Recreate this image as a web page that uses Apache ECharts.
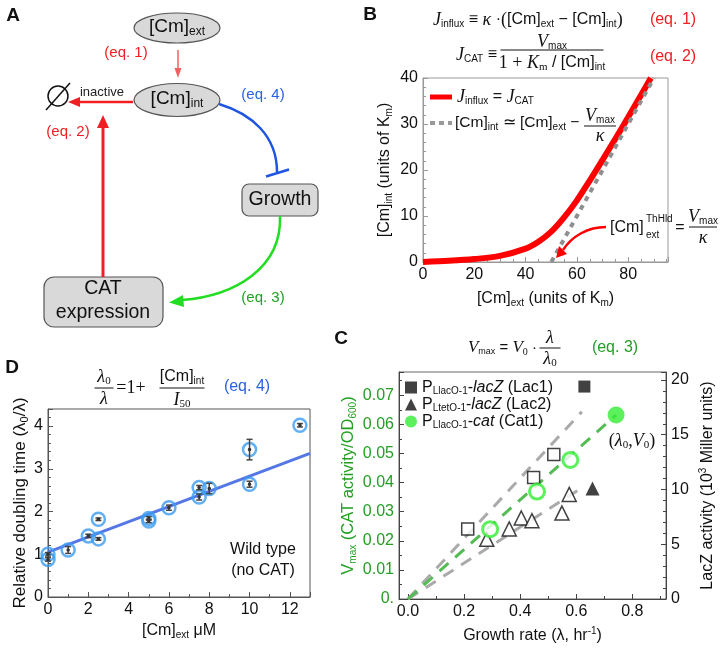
<!DOCTYPE html>
<html><head><meta charset="utf-8">
<script src="https://cdn.jsdelivr.net/npm/echarts@6/dist/echarts.min.js"></script>
<style>html,body{margin:0;padding:0;background:#fff}#c{width:724px;height:651px}</style>
</head><body><div id="c"></div>
<script>
// ---------- Panel B data ----------
const bRedX = [0, 10, 20, 30, 40, 45, 50, 55, 60, 65, 70, 75, 80, 85, 88.8];
const bRedY = [0, 0.25, 0.64, 1.34, 2.9, 4.4, 6.6, 9.7, 13.4, 17.7, 22.2, 26.8, 31.5, 36.3, 40];
const bGrayX = [50, 90];
const bGrayY = [0, 40];
const bXTicks = [0, 20, 40, 60, 80];
const bYTicks = [0, 10, 20, 30, 40];
// ---------- Panel D data ----------
const dX = [0, 0, 1, 2, 2.5, 2.5, 5, 5, 6, 7.5, 7.5, 8, 10, 10, 12.5];
const dY = [1.0, 0.88, 1.10, 1.43, 1.82, 1.36, 1.84, 1.78, 2.09, 2.56, 2.34, 2.54, 3.45, 2.64, 4.02];
const dErr = [0.04, 0.04, 0.08, 0.04, 0.03, 0.03, 0.04, 0.04, 0.06, 0.05, 0.07, 0.12, 0.24, 0.07, 0.04];
const dFitX = [0, 13];
const dFitY = [1.05, 3.36];
const dXTicks = [0, 2, 4, 6, 8, 10, 12];
const dYTicks = [0, 1, 2, 3, 4];
// ---------- Panel C data ----------
const lac1OpenX = [0.213, 0.448, 0.52];
const lac1OpenY = [6.4, 11.1, 13.2];
const lac1FullX = [0.629];
const lac1FullY = [19.4];
const lac2OpenX = [0.281, 0.361, 0.404, 0.442, 0.549, 0.575];
const lac2OpenY = [5.45, 6.4, 7.4, 7.15, 7.85, 9.55];
const lac2FullX = [0.658];
const lac2FullY = [10.1];
const cat1OpenX = [0.293, 0.46, 0.579];
const cat1OpenY = [0.024, 0.0369, 0.0478];
const cat1FullX = [0.742];
const cat1FullY = [0.0632];
const fitLac1X = [0, 0.62], fitLac1Y = [0, 17.1];
const fitLac2X = [0, 0.61], fitLac2Y = [0, 10.0];
const fitCatX = [0, 0.742], fitCatY = [0, 0.0632];
const cXTicks = [0, 0.2, 0.4, 0.6, 0.8];
const cXMinor = [0.1, 0.3, 0.5, 0.7, 0.9];
const cLeftTicks = [0, 0.01, 0.02, 0.03, 0.04, 0.05, 0.06, 0.07];
const cRightTicks = [0, 5, 10, 15, 20];

const zip = (a, b) => a.map((v, i) => [v, b[i]]);

const F = "'Liberation Sans', Arial, Helvetica, sans-serif";
const FS = "'Liberation Serif', 'Times New Roman', serif";
const RED = '#ee2024', BLUE = '#2a62e0', GREEN = '#22a022';

function R(size, color) {
  color = color || '#111';
  const sub = Math.round(size * 0.62);
  return {
    n: {fontFamily: F, fontSize: size, color},
    i: {fontFamily: F, fontSize: size, color, fontStyle: 'italic'},
    m: {fontFamily: FS, fontSize: size + 2, color, fontStyle: 'italic'},
    r: {fontFamily: FS, fontSize: size + 2, color},
    s: {fontFamily: F, fontSize: sub, color, padding: [Math.round(size * 0.55), 0, 0, 0]},
    ms: {fontFamily: FS, fontSize: sub + 1, color, padding: [Math.round(size * 0.55), 0, 0, 0]},
    p: {fontFamily: F, fontSize: sub, color, padding: [0, 0, Math.round(size * 0.6), 0]}
  };
}
function T(x, y, text, size, color, align, bold) {
  return {
    type: 'text', x: x, y: y, z: 100,
    style: {text: text, fill: color || '#111', fontSize: size, fontFamily: F, fontWeight: bold ? 'bold' : 'normal',
      align: align || 'center', verticalAlign: 'middle', textAlign: align || 'center', textVerticalAlign: 'middle',
      rich: R(size, color)}
  };
}
function L(x1, y1, x2, y2, color, w, dash) {
  const s = {stroke: color, lineWidth: w || 1};
  if (dash) s.lineDash = dash;
  return {type: 'line', z: 100, shape: {x1, y1, x2, y2}, style: s};
}
function P(points, color) {
  return {type: 'polygon', z: 100, shape: {points}, style: {fill: color}};
}
function frac(cx, yN, yBar, yD, num, den, size, w, color) {
  return [T(cx, yN, num, size, color), T(cx, yD, den, size, color), L(cx - w / 2, yBar, cx + w / 2, yBar, color || '#111', 1)];
}

const G = [];
// ---------- Panel A ----------
G.push(T(13, 16, 'A', 19, '#111', 'center', true));
G.push({type: 'ellipse', z: 90, shape: {cx: 177, cy: 28, rx: 43, ry: 15}, style: {fill: '#d9d9d9', stroke: '#555', lineWidth: 1.2}});
G.push(T(177, 27, '{n|[Cm]}{s|ext}', 19));
G.push({type: 'ellipse', z: 90, shape: {cx: 177, cy: 100, rx: 43, ry: 16.5}, style: {fill: '#d9d9d9', stroke: '#555', lineWidth: 1.2}});
G.push(T(177, 99, '{n|[Cm]}{s|int}', 19));
G.push(L(178, 50, 178, 72, '#f06060', 1.5));
G.push(P([[178, 78], [174.5, 68], [181.5, 68]], '#f06060'));
G.push(T(126, 53, '(eq. 1)', 15, RED));
G.push({type: 'circle', z: 100, shape: {cx: 58, cy: 96, r: 10}, style: {fill: 'none', stroke: '#111', lineWidth: 1.5}});
G.push(L(46, 110, 70, 83, '#111', 1.5));
G.push(T(102, 92, 'inactive', 13, '#222'));
G.push(L(133, 102, 78, 102, RED, 2.5));
G.push(P([[68, 102], [80, 97], [80, 107]], RED));
G.push(T(68, 132, '(eq. 2)', 15, RED));
G.push(L(103, 277, 103, 125, RED, 3));
G.push(P([[103, 115], [97, 128], [109, 128]], RED));
G.push({type: 'bezierCurve', z: 100, shape: {x1: 219, y1: 104, cpx1: 252, cpy1: 114, cpx2: 277, cpy2: 136, x2: 277, y2: 172}, style: {fill: 'none', stroke: '#1f55e0', lineWidth: 2.5}});
G.push(L(266, 176.5, 289, 169.5, '#1f55e0', 2.5));
G.push(T(263, 95, '(eq. 4)', 15, BLUE));
G.push({type: 'rect', z: 90, shape: {x: 242, y: 184, width: 76, height: 32, r: 7}, style: {fill: '#d9d9d9', stroke: '#555', lineWidth: 1.2}});
G.push(T(280, 200, 'Growth', 19.5));
G.push({type: 'bezierCurve', z: 100, shape: {x1: 280, y1: 216, cpx1: 282, cpy1: 268, cpx2: 235, cpy2: 296, x2: 182, y2: 300}, style: {fill: 'none', stroke: '#22dd22', lineWidth: 2.5}});
G.push(P([[169, 302.5], [183, 295], [184, 307]], '#22dd22'));
G.push(T(263, 298, '(eq. 3)', 15, GREEN));
G.push({type: 'rect', z: 90, shape: {x: 44, y: 277, width: 119, height: 50, r: 10}, style: {fill: '#d9d9d9', stroke: '#555', lineWidth: 1.2}});
G.push(T(103, 289, 'CAT', 19.5));
G.push(T(103, 313, 'expression', 19.5));
// ---------- Panel B annotations ----------
G.push(T(370, 15, 'B', 19, '#111', 'center', true));
G.push(T(433, 20, '{m|J}{s|influx}{n| ≡ }{m|κ}{n| ·}{r|(}{n|[Cm]}{s|ext}{n| − [Cm]}{s|int}{r|)}', 16, '#111', 'left'));
G.push(T(673, 20, '(eq. 1)', 16, RED));
G.push(T(497, 55, '{m|J}{s|CAT}{n| ≡}', 16, '#111', 'right'));
G.push(...frac(552, 42, 50, 63, '{m|V}{s|max}', '{r|1 + }{m|K}{ms|m}{n| / [Cm]}{s|int}', 16, 103));
G.push(T(673, 57, '(eq. 2)', 16, RED));
G.push(L(430, 97, 452, 97, '#ff0000', 5));
G.push(T(457, 97, '{m|J}{s|influx}{n| = }{m|J}{s|CAT}', 16, '#111', 'left'));
G.push(L(430, 123, 452, 123, '#999', 4, [5, 4]));
G.push(T(455, 123, '{n|[Cm]}{s|int}{n| ≃ [Cm]}{s|ext}{n| −}', 15.5, '#111', 'left'));
G.push(...frac(600, 116, 126, 136, '{m|V}{s|max}', '{m|κ}', 16, 32));
G.push(T(610, 228, '[Cm]', 16, '#111', 'left'));
G.push(T(646, 219, 'ThHld', 10, '#111', 'left'));
G.push(T(646, 235, 'ext', 10, '#111', 'left'));
G.push(T(680, 228, '=', 16));
G.push(...frac(703, 217, 227, 238, '{m|V}{s|max}', '{m|κ}', 16, 28));
G.push({type: 'bezierCurve', z: 100, shape: {x1: 606, y1: 227, cpx1: 588, cpy1: 227, cpx2: 572, cpy2: 236, x2: 563, y2: 250}, style: {fill: 'none', stroke: '#ff0000', lineWidth: 2.5}});
G.push(P([[556, 258], [567, 254], [559, 246]], '#ff0000'));
// ---------- Panel D annotations ----------
G.push(T(12, 368, 'D', 19, '#111', 'center', true));
G.push(...frac(104, 377, 388, 399, '{m|λ}{ms|0}', '{m|λ}', 16, 19));
G.push(T(131, 388, '{r|=1+}', 16));
G.push(...frac(182, 377, 388, 400, '{n|[Cm]}{s|int}', '{m|I}{ms|50}', 16, 45));
G.push(T(247, 387, '(eq. 4)', 16, BLUE));
G.push(T(263, 550, 'Wild type', 16));
G.push(T(263, 571, '(no CAT)', 16));
// ---------- Panel C annotations ----------
G.push(T(341, 339, 'C', 19, '#111', 'center', true));
G.push(T(537, 348, '{m|V}{s|max}{n| = }{m|V}{ms|0}{n| ·}', 15, '#111', 'right'));
G.push(...frac(550, 338, 348, 359, '{m|λ}', '{m|λ}{ms|0}', 16, 21));
G.push(T(615, 348, '(eq. 3)', 16, GREEN));
G.push(T(632, 441, '{r|(}{m|λ}{ms|0}{r|,}{m|V}{ms|0}{r|)}', 16));

// ---------- Axes ----------
function ax(extra, color, minorSplit) {
  color = color || '#777';
  return Object.assign({
    type: 'value',
    axisLine: {show: true, onZero: false, lineStyle: {color: color, width: 1}},
    axisTick: {show: true, inside: true, length: 5, lineStyle: {color: color}},
    minorTick: {show: !!minorSplit, splitNumber: minorSplit || 2, length: 3, lineStyle: {color: color}},
    splitLine: {show: false}, minorSplitLine: {show: false},
    nameLocation: 'middle',
    nameTextStyle: {fontFamily: F, fontSize: 16, color: '#111', rich: R(16)}
  }, extra);
}
const lbl = (f, color) => ({show: true, color: color || '#111', fontSize: 16, fontFamily: F, margin: 5, formatter: f});
const inList = list => v => list.some(t => Math.abs(t - v) < 1e-9) ? String(v) : '';

const xAxis = [
  ax({gridIndex: 0, min: 0, max: 95.5, interval: 20, axisLabel: lbl(inList(bXTicks)),
      name: '{n|[Cm]}{s|ext}{n| (units of K}{s|m}{n|)}', nameGap: 27}, '#999', 4),
  ax({gridIndex: 1, min: 0, max: 13, interval: 2, axisLabel: lbl(inList(dXTicks)),
      name: '{n|[Cm]}{s|ext}{n| μM}', nameGap: 24}, '#555', 2),
  ax({gridIndex: 2, min: -0.032, max: 0.92, position: 'bottom',
      axisTick: {show: true, inside: true, length: 5, customValues: cXTicks, lineStyle: {color: '#444'}},
      axisLabel: Object.assign(lbl(v => v.toFixed(1)), {customValues: cXTicks}),
      name: '{n|Growth rate (λ, hr}{p|-1}{n|)}', nameGap: 27}, '#444', 0),
  ax({gridIndex: 2, min: -0.032, max: 0.92, position: 'bottom',
      axisLine: {show: false, onZero: false},
      axisTick: {show: true, inside: true, length: 3, customValues: cXMinor, lineStyle: {color: '#444'}},
      axisLabel: {show: false}}, '#444', 0)
];
const yAxis = [
  ax({gridIndex: 0, min: 0, max: 40, interval: 10, axisLabel: lbl(inList(bYTicks)),
      name: '{n|[Cm]}{s|int}{n| (units of K}{s|m}{n|)}', nameRotate: 90, nameGap: 29}, '#999', 5),
  ax({gridIndex: 1, min: 0, max: 4.4, interval: 1, axisLabel: lbl(inList(dYTicks)),
      name: '{n|Relative doubling time (λ}{s|0}{n|/λ)}', nameRotate: 90, nameGap: 17,
      nameTextStyle: {fontFamily: F, fontSize: 17, color: '#111', rich: R(17)}}, '#555', 5),
  ax({gridIndex: 2, min: 0, max: 0.078, interval: 0.01, position: 'left',
      axisLabel: lbl(v => { const k = Math.round(v * 100); if (Math.abs(v * 100 - k) > 1e-6) return ''; return k === 0 ? '0.' : (k / 100).toFixed(2); }, GREEN),
      name: '{n|V}{s|max}{n| (CAT activity/OD}{s|600}{n|)}', nameRotate: 90, nameGap: 41,
      nameTextStyle: {fontFamily: F, fontSize: 16.5, color: GREEN, rich: R(16.5, GREEN)}}, '#444', 2),
  ax({gridIndex: 2, min: 0, max: 20.73, interval: 5, position: 'right',
      axisLabel: lbl(inList(cRightTicks)),
      name: '{n|LacZ activity (10}{p|3}{n| Miller units)}', nameRotate: 90, nameGap: 32}, '#444', 5)
];

const openC = (c, w) => ({color: '#fff', borderColor: c, borderWidth: w});
const series = [
  // Panel B
  {type: 'line', xAxisIndex: 0, yAxisIndex: 0, data: zip(bRedX, bRedY), smooth: 0.3, showSymbol: false, symbol: 'none',
   lineStyle: {color: '#ff0000', width: 6}, z: 2},
  {type: 'line', xAxisIndex: 0, yAxisIndex: 0, data: zip(bGrayX, bGrayY), showSymbol: false, symbol: 'none',
   lineStyle: {color: '#8f8f8f', width: 4, type: [5, 5]}, z: 3},
  // Panel D
  {type: 'line', xAxisIndex: 1, yAxisIndex: 1, data: zip(dFitX, dFitY), showSymbol: false, symbol: 'none',
   lineStyle: {color: '#5577e6', width: 3}, z: 2},
  {type: 'scatter', xAxisIndex: 1, yAxisIndex: 1, data: zip(dX, dY), symbol: 'circle', symbolSize: 13,
   itemStyle: {color: 'rgba(255,255,255,0)', borderColor: '#3b9cf0', borderWidth: 2.5}, z: 3},
  {type: 'custom', xAxisIndex: 1, yAxisIndex: 1, data: dX.map((x, i) => [x, dY[i], dErr[i]]), z: 4,
   renderItem: function (params, api) {
     const x = api.value(0), y = api.value(1), e = api.value(2);
     const a = api.coord([x, y + e]), b = api.coord([x, y - e]), c = api.coord([x, y]);
     const st = {stroke: '#444', lineWidth: 1.5};
     return {type: 'group', children: [
       {type: 'line', shape: {x1: a[0], y1: a[1], x2: b[0], y2: b[1]}, style: st},
       {type: 'line', shape: {x1: a[0] - 3, y1: a[1], x2: a[0] + 3, y2: a[1]}, style: st},
       {type: 'line', shape: {x1: b[0] - 3, y1: b[1], x2: b[0] + 3, y2: b[1]}, style: st},
       {type: 'circle', shape: {cx: c[0], cy: c[1], r: 1.8}, style: {fill: '#333'}}
     ]};
   }},
  // Panel C fits
  {type: 'line', xAxisIndex: 2, yAxisIndex: 3, data: zip(fitLac1X, fitLac1Y), showSymbol: false, symbol: 'none',
   lineStyle: {color: '#aaaaaa', width: 3, type: [12, 9]}, z: 2},
  {type: 'line', xAxisIndex: 2, yAxisIndex: 3, data: zip(fitLac2X, fitLac2Y), showSymbol: false, symbol: 'none',
   lineStyle: {color: '#aaaaaa', width: 3, type: [12, 9]}, z: 2},
  {type: 'line', xAxisIndex: 2, yAxisIndex: 2, data: zip(fitCatX, fitCatY), showSymbol: false, symbol: 'none',
   lineStyle: {color: '#55bb55', width: 3, type: [12, 9]}, z: 2},
  // Panel C points
  {type: 'scatter', name: 'lac1open', xAxisIndex: 2, yAxisIndex: 3, data: zip(lac1OpenX, lac1OpenY), symbol: 'rect', symbolSize: 12,
   itemStyle: openC('#111', 1.5), z: 4},
  {type: 'scatter', name: 'Lac1', xAxisIndex: 2, yAxisIndex: 3, data: zip(lac1FullX, lac1FullY), symbol: 'rect', symbolSize: 12,
   itemStyle: {color: '#111'}, z: 4},
  {type: 'scatter', name: 'lac2open', xAxisIndex: 2, yAxisIndex: 3, data: zip(lac2OpenX, lac2OpenY), symbol: 'triangle', symbolSize: 14,
   itemStyle: openC('#111', 1.5), z: 4},
  {type: 'scatter', name: 'Lac2', xAxisIndex: 2, yAxisIndex: 3, data: zip(lac2FullX, lac2FullY), symbol: 'triangle', symbolSize: 14,
   itemStyle: {color: '#111'}, z: 4},
  {type: 'scatter', name: 'cat1open', xAxisIndex: 2, yAxisIndex: 2, data: zip(cat1OpenX, cat1OpenY), symbol: 'circle', symbolSize: 15,
   itemStyle: openC('#33ee33', 3), z: 4},
  {type: 'scatter', name: 'Cat1', xAxisIndex: 2, yAxisIndex: 2, data: zip(cat1FullX, cat1FullY), symbol: 'circle', symbolSize: 17,
   itemStyle: {color: '#33ee33'}, z: 4}
];

const legendNames = {
  Lac1: '{n|P}{s|LlacO-1}{n|-}{i|lacZ}{n| (Lac1)}',
  Lac2: '{n|P}{s|LtetO-1}{n|-}{i|lacZ}{n| (Lac2)}',
  Cat1: '{n|P}{s|LlacO-1}{n|-}{i|cat}{n| (Cat1)}'
};
const legRich = {
  n: {fontFamily: F, fontSize: 16, color: '#111', lineHeight: 16},
  i: {fontFamily: F, fontSize: 16, color: '#111', fontStyle: 'italic', lineHeight: 16},
  s: {fontFamily: F, fontSize: 10, color: '#111', lineHeight: 10, padding: [7, 0, 0, 0]}
};

const chart = echarts.init(document.getElementById('c'), null, {renderer: 'canvas', width: 724, height: 651});
chart.setOption({
  animation: false,
  backgroundColor: '#ffffff',
  textStyle: {fontFamily: F},
  grid: [
    {left: 423, top: 78, width: 245, height: 184, show: true, borderColor: '#999', borderWidth: 1, backgroundColor: 'rgba(0,0,0,0)', containLabel: false, outerBoundsMode: 'none'},
    {left: 48, top: 409, width: 262, height: 188, show: true, borderColor: '#555', borderWidth: 1, backgroundColor: 'rgba(0,0,0,0)', containLabel: false, outerBoundsMode: 'none'},
    {left: 399, top: 372, width: 267, height: 227, show: true, borderColor: '#666', borderWidth: 1, backgroundColor: 'rgba(0,0,0,0)', containLabel: false, outerBoundsMode: 'none'}
  ],
  xAxis: xAxis,
  yAxis: yAxis,
  legend: [{
    show: true, orient: 'vertical', left: 405, top: 379, itemGap: 0, itemWidth: 12, itemHeight: 12,
    selectedMode: false, padding: 0,
    data: [{name: 'Lac1', icon: 'rect'}, {name: 'Lac2', icon: 'triangle'}, {name: 'Cat1', icon: 'circle'}],
    formatter: name => legendNames[name],
    textStyle: {fontFamily: F, fontSize: 16, color: '#111', rich: legRich}
  }],
  tooltip: {show: false},
  series: series,
  graphic: {elements: G}
});
</script>
</body></html>
